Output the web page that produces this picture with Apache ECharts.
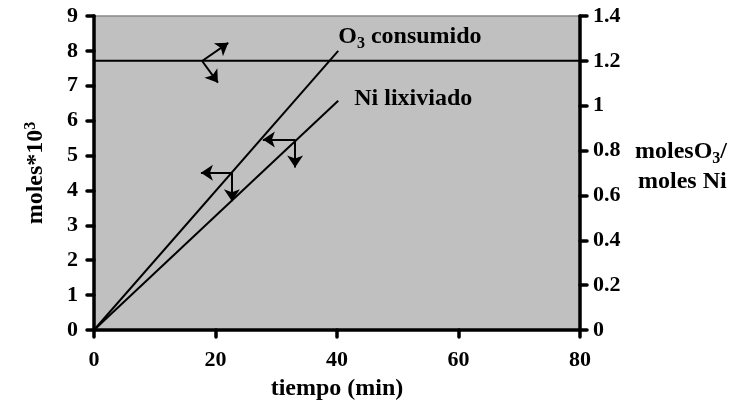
<!DOCTYPE html>
<html>
<head>
<meta charset="utf-8">
<script src="https://cdn.jsdelivr.net/npm/echarts@6/dist/echarts.min.js"></script>
<style>
  html, body { margin: 0; padding: 0; background: #fff; }
  #chart { width: 731px; height: 406px; }
</style>
</head>
<body>
<div id="chart"></div>
<script>
// Time axis (min) and the straight-line trends
const timeLimits = [0, 40.2];
const o3Consumed = [0, 8.0];      // moles*10^3
const niLeached = [0, 6.57];      // moles*10^3
const ratioTime = [0, 80];
const ratioValues = [1.2, 1.2];   // moles O3 / moles Ni

// Arrows pointing each curve to its axis: [x0, y0, x1, y1] in left-axis data units
const arrowsLeftAxis = [
  [22.7, 4.51, 17.6, 4.51],
  [22.7, 4.51, 22.7, 3.69],
  [33.1, 5.46, 27.8, 5.46],
  [33.1, 5.46, 33.1, 4.66],
  [17.8, 7.71, 22.1, 8.23],
  [17.8, 7.71, 20.4, 7.09]
];

const FONT = '"Liberation Serif", "Times New Roman", serif';
const pairs = (xs, ys) => xs.map((x, i) => [x, ys[i]]);

const chart = echarts.init(document.getElementById('chart'));

const tickFont = { color: '#000', fontFamily: FONT, fontWeight: 'bold', fontSize: 22 };
const titleFont = { color: '#000', fontFamily: FONT, fontWeight: 'bold', fontSize: 24 };
const subFont = { color: '#000', fontFamily: FONT, fontWeight: 'bold', fontSize: 16 };
const axisLine = { show: true, onZero: false, lineStyle: { color: '#000', width: 3.5 } };
const axisTick = { show: true, length: 7, lineStyle: { color: '#000', width: 3.5, cap: 'round' } };

chart.setOption({
  animation: false,
  grid: {
    left: 94, right: 151, top: 16, bottom: 75,
    show: true, backgroundColor: '#c0c0c0', borderColor: '#888888', borderWidth: 1.5
  },
  xAxis: {
    type: 'value', min: 0, max: 80, interval: 20,
    name: 'tiempo (min)', nameLocation: 'middle', nameGap: 47,
    nameTextStyle: titleFont,
    axisLine: axisLine,
    axisTick: axisTick,
    axisLabel: Object.assign({ margin: 19 }, tickFont),
    splitLine: { show: false }
  },
  yAxis: [
    {
      type: 'value', min: 0, max: 9, interval: 1,
      name: '{a|moles*10}{sup|3}', nameLocation: 'middle', nameGap: 45, nameRotate: 90,
      nameTextStyle: Object.assign({
        rich: {
          a: titleFont,
          sup: Object.assign({ verticalAlign: 'top', padding: [0, 0, 10, 0] }, subFont)
        }
      }, titleFont),
      axisLine: axisLine,
      axisTick: axisTick,
      axisLabel: Object.assign({ margin: 16 }, tickFont),
      splitLine: { show: false }
    },
    {
      type: 'value', min: 0, max: 1.4, interval: 0.2, position: 'right',
      axisLine: axisLine,
      axisTick: axisTick,
      axisLabel: Object.assign({ margin: 13 }, tickFont),
      splitLine: { show: false }
    }
  ],
  graphic: [
    {
      type: 'text', left: 635, top: 137,
      style: {
        text: '{a|molesO}{s|3}{a|/}\n{b|moles Ni}',
        fill: '#000', font: 'bold 24px ' + FONT, lineHeight: 30,
        rich: {
          a: { fill: '#000', fontFamily: FONT, fontWeight: 'bold', fontSize: 24, lineHeight: 30 },
          b: { fill: '#000', fontFamily: FONT, fontWeight: 'bold', fontSize: 24, lineHeight: 30, padding: [0, 0, 0, 3] },
          s: { fill: '#000', fontFamily: FONT, fontWeight: 'bold', fontSize: 16, verticalAlign: 'bottom', lineHeight: 30, padding: [12, 0, 0, 0] }
        }
      }
    }
  ],
  series: [
    {
      name: 'O3 consumido', type: 'line', yAxisIndex: 0,
      data: pairs(timeLimits, o3Consumed),
      symbol: 'none', lineStyle: { color: '#000', width: 2 },
      endLabel: {
        show: true, formatter: '{b|O}{s|3}{b| consumido}', offset: [-8, -14],
        rich: {
          b: titleFont,
          s: Object.assign({ verticalAlign: 'bottom', padding: [14, 0, 0, 0] }, subFont)
        }
      }
    },
    {
      name: 'Ni lixiviado', type: 'line', yAxisIndex: 0,
      data: pairs(timeLimits, niLeached),
      symbol: 'none', lineStyle: { color: '#000', width: 2 },
      endLabel: Object.assign({ show: true, formatter: 'Ni lixiviado', offset: [8, -2] }, titleFont)
    },
    {
      name: 'relación', type: 'line', yAxisIndex: 1,
      data: pairs(ratioTime, ratioValues),
      symbol: 'none', lineStyle: { color: '#000', width: 2 }
    },
    {
      name: 'flechas', type: 'lines', coordinateSystem: 'cartesian2d', xAxisIndex: 0, yAxisIndex: 0,
      polyline: false, silent: true,
      symbol: ['none', 'arrow'], symbolSize: 12,
      lineStyle: { color: '#000', width: 2, opacity: 1 },
      data: arrowsLeftAxis.map(a => ({ coords: [[a[0], a[1]], [a[2], a[3]]] }))
    }
  ]
});
</script>
</body>
</html>
